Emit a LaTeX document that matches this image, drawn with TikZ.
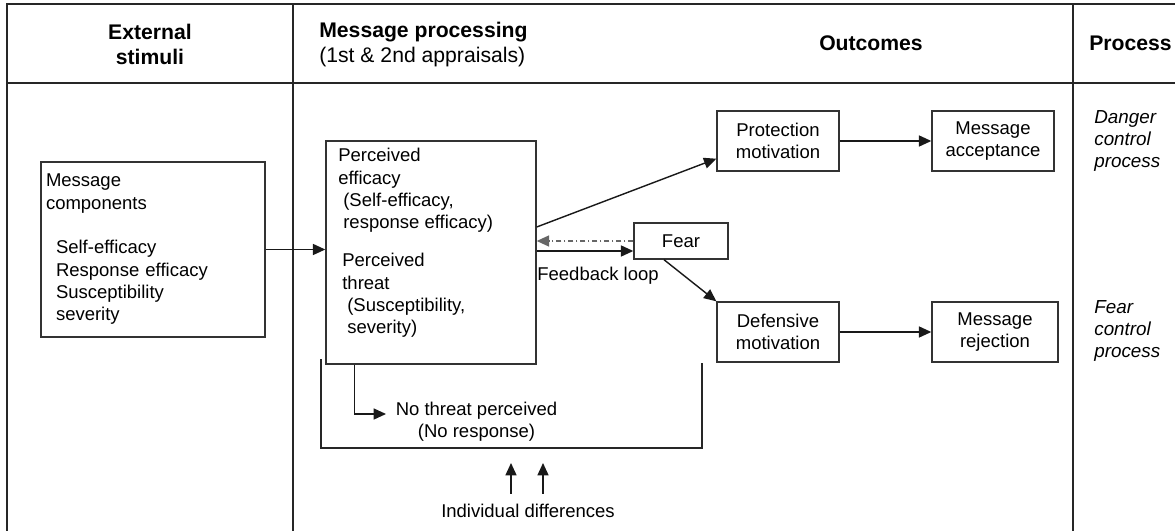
\documentclass[tikz,border=0pt]{standalone}
\usepackage{fontspec}
\setmainfont{Liberation Sans}
\usetikzlibrary{arrows.meta,calc}

\begin{document}
\begin{tikzpicture}[x=0.6pt,y=-0.6pt,
  frame/.style={draw=black!85,line width=1.1pt},
  box/.style={draw=black!80,line width=0.85pt,inner sep=0pt,align=center,
    font=\fontsize{11.1pt}{13.4pt}\selectfont},
  txt/.style={inner sep=0pt,align=left,font=\fontsize{11.1pt}{13.4pt}\selectfont},
  head/.style={inner sep=0pt,font=\fontsize{12.7pt}{15pt}\selectfont},
  tip/.style={-{Triangle[length=7.4pt,width=6.6pt]}},
  arr/.style={draw=black!90,line width=0.85pt,tip},
  fb/.style={draw=black!60,line width=0.85pt,dash pattern=on 3.2pt off 1.6pt on 0.8pt off 1.6pt,tip}]
\useasboundingbox (0,0) rectangle (1175,531);

% table frame and column rules
\draw[frame] (1175,4) -- (7,4) -- (7,531);
\draw[frame] (7,83) -- (1175,83);
\draw[frame] (293,4) -- (293,531);
\draw[frame] (1073,4) -- (1073,531);

% column headings
\node[head,align=center,font=\fontsize{12.7pt}{15pt}\selectfont\bfseries] (hext) at (150,44.5) {External\\stimuli};
\node[head,align=left,anchor=west] (hmp) at (319,44.5) {\textbf{Message processing}\\(1st \& 2nd appraisals)};
\node[head,font=\fontsize{12.7pt}{15pt}\selectfont\bfseries] (hout) at (871,43) {Outcomes};
\node[head,anchor=west,font=\fontsize{12.7pt}{15pt}\selectfont\bfseries] (hproc) at (1089,43) {Process};

% external stimuli
\node[box,align=left,inner xsep=3pt,text width=128.4pt,minimum height=105pt] (msg) at (153,249.5)
  {Message\\components\\[13.4pt]
   \hspace*{6pt}Self-efficacy\\
   \hspace*{6pt}Response efficacy\\
   \hspace*{6pt}Susceptibility\\
   \hspace*{6pt}severity};

% appraisal box
\node[box,minimum width=126pt,minimum height=133.8pt] (perc) at (431,252.5) {};
\node[txt,anchor=west] (peff) at (338,190.5)
  {Perceived\\efficacy\\\hspace*{3pt}(Self-efficacy,\\\hspace*{3pt}response efficacy)};
\node[txt,anchor=west] (pthr) at (342,295.5)
  {Perceived\\threat\\\hspace*{3pt}(Susceptibility,\\\hspace*{3pt}severity)};

% outcome boxes
\node[box,minimum width=56.4pt,minimum height=21.6pt] (fear) at (681,241) {Fear};
\node[box,minimum width=73.2pt,minimum height=36pt] (prot) at (778,141) {Protection\\motivation};
\node[box,minimum width=73.2pt,minimum height=36pt] (acc) at (993,141) {Message\\acceptance};
\node[box,minimum width=73.2pt,minimum height=36pt] (def) at (778,332) {Defensive\\motivation};
\node[box,minimum width=75.6pt,minimum height=36pt] (rej) at (995,332) {Message\\rejection};

% process labels
\node[txt,anchor=west,font=\fontsize{11.3pt}{13.2pt}\selectfont\itshape] (danger) at (1094,141) {Danger\\control\\process};
\node[txt,anchor=west,font=\fontsize{11.3pt}{13.2pt}\selectfont\itshape] (fearc) at (1094,331) {Fear\\control\\process};

% lower labels
\node[txt,align=center] (nothreat) at (476.5,421.5) {No threat perceived\\(No response)};
\node[txt,inner ysep=6pt] (indiv) at (528,511) {Individual differences};
\node[txt,anchor=west] (floop) at (537,276) {Feedback loop};

% bracket round the appraisal stage
\coordinate (bl) at (321,359);
\coordinate (br) at (702,363);
\draw[draw=black!85,line width=0.85pt] (bl) -- (bl |- 0,448) -- (br |- 0,448) -- (br);

% connectors
\draw[arr] (msg.east) -- (msg.east -| perc.west);
\draw[arr] ([yshift=15.3pt]perc.east) -- ([yshift=7.8pt]prot.south west);
\draw[arr] ([yshift=-6pt]fear.west -| perc.east) -- ([yshift=-6pt]fear.west);
\draw[fb] (fear.west) -- (fear.west -| perc.east);
\draw[arr] ([xshift=-10.2pt]fear.south) -- (def.north west);
\draw[arr] (prot.east) -- (acc.west);
\draw[arr] (def.east) -- (def.east -| rej.west);

\coordinate (ntp) at (386,414);
\draw[arr] ([xshift=17.4pt]perc.south west) |- (ntp);

\coordinate (up1) at (511,463);
\coordinate (up2) at (543,463);
\draw[arr] (indiv.north -| up1) -- (up1);
\draw[arr] (indiv.north -| up2) -- (up2);
\end{tikzpicture}
\end{document}
